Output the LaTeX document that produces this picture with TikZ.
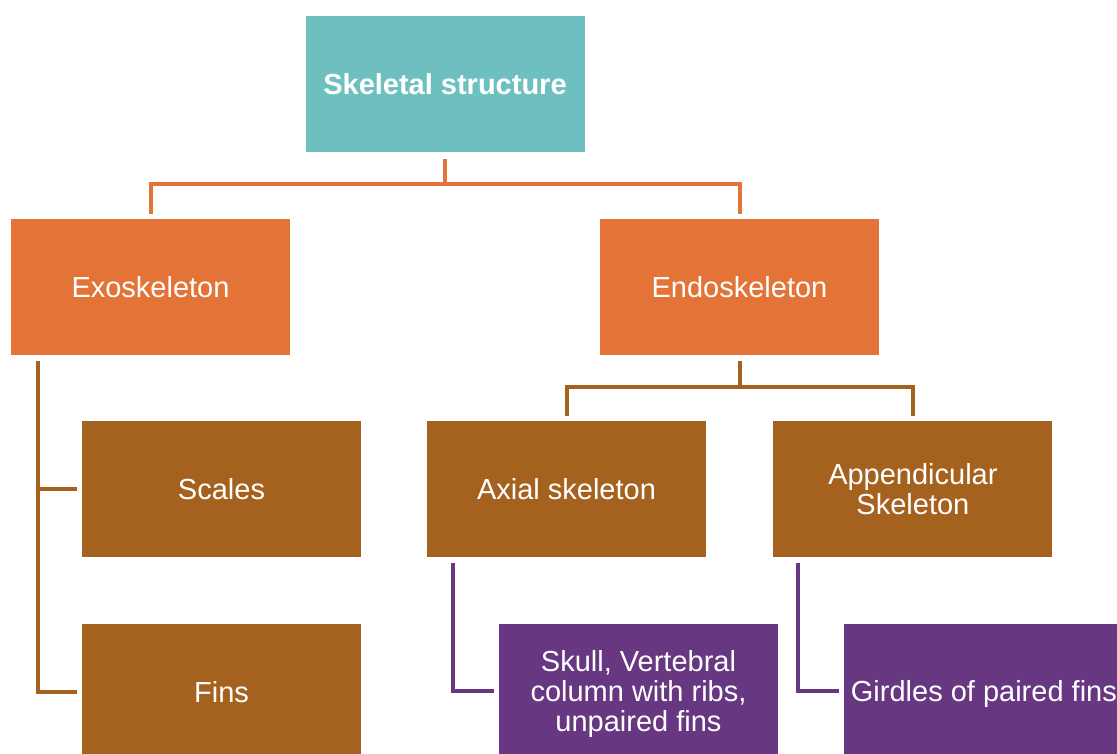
\documentclass[tikz,border=0pt]{standalone}
\usepackage{fontspec}
\setmainfont{Liberation Sans}
\usepackage{tikz}
\usetikzlibrary{positioning}
\definecolor{tealbox}{HTML}{6EC0C0}
\definecolor{orangebox}{HTML}{E37336}
\definecolor{brownbox}{HTML}{A5621F}
\definecolor{purplebox}{HTML}{683781}
\tikzset{
    box/.style={minimum width=279pt, minimum height=136pt, inner sep=2pt,
      text=white, align=center, font=\fontsize{29}{30}\selectfont},
    topbox/.style={box, fill=tealbox, font=\bfseries\fontsize{29}{30}\selectfont},
    exobox/.style={box, fill=orangebox},
    partbox/.style={box, fill=brownbox},
    leafbox/.style={box, fill=purplebox, minimum height=140pt},
    link/.style={line width=4pt, shorten <=6pt, shorten >=5pt}
}

\begin{document}
\begin{tikzpicture}[x=1pt, y=-1pt]
      \clip (0,0) rectangle (1117,754);
      \fill[white] (0,0) rectangle (1117,754);
      \node[topbox] (top) at (445,84.5) {Skeletal structure};
      \node[exobox] (exo) at (150.5,287) {Exoskeleton};
      \node[exobox] (endo) at (739.5,287) {Endoskeleton};
      \node[partbox] (scales) at (221.5,489) {Scales};
      \node[partbox, below = 67pt of scales] (fins) {Fins};
      \node[partbox] (axial) at (566.5,489) {Axial skeleton};
      \node[partbox, right = 67pt of axial] (append) {Appendicular\\Skeleton};
      \node[leafbox] (skull) at (638.5,694) {Skull, Vertebral\\column with ribs,\\unpaired fins};
      \node[leafbox, right = 66pt of skull] (girdle) {Girdles of paired fins};
      % links
      \draw[link, orangebox] (top.south) -- ++(0,31) -| (exo.north);
      \draw[link, orangebox] (top.south) -- ++(0,31) -| (endo.north);
      \draw[link, brownbox] ([xshift=27pt]exo.south west) |- (scales.west);
      \draw[link, brownbox] ([xshift=27pt]exo.south west) |- (fins.west);
      \draw[link, brownbox] (endo.south) -- ++(0,32) -| (axial.north);
      \draw[link, brownbox] (endo.south) -- ++(0,32) -| (append.north);
      \draw[link, purplebox] ([xshift=26pt]axial.south west) |- ([yshift=3pt]skull.west);
      \draw[link, purplebox] ([xshift=25pt]append.south west) |- ([yshift=3pt]girdle.west);
\end{tikzpicture}
\end{document}
